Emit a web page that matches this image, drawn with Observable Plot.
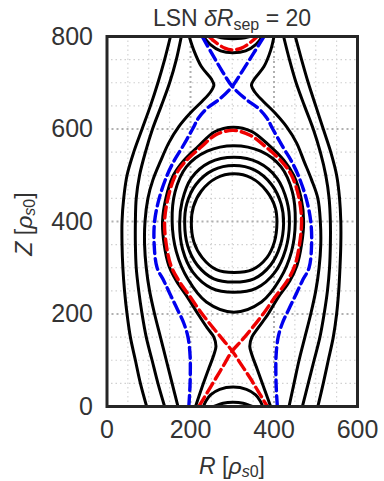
<!DOCTYPE html>
<html><head><meta charset="utf-8">
<script src="https://cdn.jsdelivr.net/npm/d3@7"></script>
<script src="https://cdn.jsdelivr.net/npm/@observablehq/plot@0.6"></script>
<style>body{margin:0;background:#fff;} svg{display:block;}</style>
</head><body><div id="chart"></div>
<script>
// tick values
const xTicks = [0, 200, 400, 600];
const yTicks = [0, 200, 400, 600, 800];
const majorR = [200, 400];
const majorZ = [200, 400, 600];
const minorR = [50, 100, 150, 250, 300, 350, 450, 500, 550];
const minorZ = [50, 100, 150, 250, 300, 350, 450, 500, 550, 650, 700, 750];

// open black field lines [R, Z]
const L1 = [[152,800],[138,750],[122,700],[104,650],[84,600],[64,550],[48,500],[40,450],[36,400],[36,350],[38,300],[42,250],[48,200],[56,150],[68,100],[80,50],[95,0]];
const L2 = [[178,800],[166,750],[150,700],[130,650],[109,600],[92,550],[78,500],[70,450],[68,400],[68,350],[70,300],[76,250],[84,200],[94,150],[108,100],[122,50],[138,0]];
const L3 = [[197,800],[208,770],[226,735],[250,708],[256,695],[248,680],[228,660],[200,635],[172,605],[148,570],[128,530],[110,490],[98,450],[91,400],[90,350],[94,300],[102,250],[114,200],[128,150],[142,100],[156,50],[170,0]];
const R1 = [[451,800],[466,750],[482,700],[500,650],[518,600],[536,550],[550,500],[557,450],[560,400],[560,350],[558,300],[555,250],[550,200],[542,150],[530,100],[518,50],[505,0]];
const R2 = [[423,800],[437,750],[453,700],[473,650],[494,600],[511,550],[524,500],[532,450],[535,400],[535,350],[533,300],[528,250],[520,200],[510,150],[496,100],[482,50],[468,0]];
const R3 = [[400,800],[392,770],[376,735],[353,708],[346,695],[354,680],[374,660],[402,635],[430,605],[454,570],[472,530],[490,490],[505,450],[511,400],[512,350],[508,300],[500,250],[488,200],[474,150],[460,100],[448,50],[436,0]];
const S1 = [[212,0],[227,40],[243,80],[256,112],[261,130],[256,150],[240,170],[218,200],[193,236],[166,272],[148,305],[137,350],[133,400],[141,450],[159,500],[182,530],[218,562],[258,594],[302,604],[346,595],[389,564],[424,532],[447,500],[465,450],[471,400],[466,350],[455,305],[438,272],[410,236],[386,200],[362,170],[347,150],[342,130],[347,112],[360,80],[376,40],[392,0]];
const T0 = [[262,800],[282,796],[302,795],[322,796],[342,800]];
const T1 = [[231,800],[247,783],[272,769],[302,765],[332,769],[357,783],[372,800]];
const B1 = [[231,0],[237,12],[248,25],[270,37],[302,42],[334,37],[356,25],[367,12],[373,0]];
const B2 = [[256,0],[278,7],[302,9],[326,7],[348,0]];

// closed black flux surfaces
const C1 = [[304,503],[346,494],[382,466],[403,430],[407,396],[401,356],[383,322],[348,296],[304,290],[262,296],[228,322],[208,356],[202,396],[207,432],[226,466],[262,494]];
const C2 = [[304,521],[354,511],[394,480],[417,438],[423,396],[415,348],[392,306],[352,276],[304,269],[256,276],[216,306],[193,348],[186,396],[191,438],[213,480],[254,511]];
const C3 = [[304,539],[362,528],[407,494],[431,444],[437,396],[428,340],[402,290],[358,256],[304,247],[250,256],[206,290],[181,340],[174,396],[180,444],[202,494],[246,528]];
const C4 = [[304,564],[368,552],[417,518],[444,464],[451,400],[442,335],[414,275],[370,226],[304,204],[238,226],[194,275],[166,335],[156,400],[163,464],[190,518],[240,552]];

// blue separatrix (upper X-point)
const blueA = [[228,800],[250,765],[274,728],[300,692],[332,665],[362,645],[382,625],[397,600],[422,560],[442,530],[458,500],[477,450],[488,400],[490,350],[484,300],[468,272],[454,245],[438,215],[420,180],[410,150],[405,110],[405,50],[408,0]];
const blueB = [[376,800],[352,765],[326,728],[300,692],[270,665],[240,645],[220,625],[205,600],[180,560],[160,530],[144,500],[125,450],[114,400],[113,350],[120,300],[136,272],[150,245],[166,215],[184,180],[194,150],[199,110],[199,50],[196,0]];

// red separatrix (lower X-point)
const redLoop = [[220,0],[240,30],[260,60],[280,90],[300,120],[322,142],[346,168],[374,200],[402,236],[432,272],[450,305],[461,350],[466,400],[460,450],[442,500],[418,530],[382,560],[344,586],[302,597],[262,588],[224,560],[188,530],[164,500],[146,450],[138,400],[142,350],[153,305],[172,272],[200,236],[228,200],[256,168],[280,142],[300,120],[322,90],[344,60],[364,30],[384,0]];
const redTop = [[244,800],[262,786],[282,775],[302,771],[322,775],[342,786],[360,800]];

const rows = (list, tag) => list.flatMap((c, i) => c.map(([R, Z]) => ({R, Z, id: tag + i})));
const openBlack = rows([L1, L2, L3, R1, R2, R3, S1, T0, T1, B1, B2], "o");
const closedBlack = rows([C1, C2, C3, C4], "c");
const blueLines = rows([blueA, blueB], "b");
const redLines = rows([redLoop, redTop], "r");

const ink = "#333333";
const font = "'Liberation Sans', Arial, sans-serif";
const svg = Plot.plot({
  width: 384, height: 481,
  marginLeft: 106.5, marginRight: 27, marginTop: 36, marginBottom: 75,
  style: {fontFamily: font, fontSize: "25px", color: ink, background: "#fff"},
  x: {domain: [0, 600], ticks: xTicks, tickSize: 0, tickPadding: 14, label: null},
  y: {domain: [0, 800], ticks: yTicks, tickSize: 0, tickPadding: 14, label: null},
  marks: [
    Plot.ruleX(minorR, {stroke: "#d0d0d0", strokeWidth: 1.1, strokeDasharray: "1.5,3"}),
    Plot.ruleY(minorZ, {stroke: "#d0d0d0", strokeWidth: 1.1, strokeDasharray: "1.5,3"}),
    Plot.ruleX(majorR, {stroke: "#b0b0b0", strokeWidth: 2, strokeDasharray: "2,3"}),
    Plot.ruleY(majorZ, {stroke: "#b0b0b0", strokeWidth: 2, strokeDasharray: "2,3"}),
    Plot.line(openBlack, {x: "R", y: "Z", z: "id", stroke: "black", strokeWidth: 3, curve: "catmull-rom", clip: true}),
    Plot.line(closedBlack, {x: "R", y: "Z", z: "id", stroke: "black", strokeWidth: 3, curve: "catmull-rom-closed", clip: true}),
    Plot.line(blueLines, {x: "R", y: "Z", z: "id", stroke: "#0000ee", strokeWidth: 3.4, strokeDasharray: "11,5", curve: "catmull-rom", clip: true}),
    Plot.line(redLines, {x: "R", y: "Z", z: "id", stroke: "#ee0000", strokeWidth: 3.4, strokeDasharray: "11,5", curve: "catmull-rom", clip: true}),
    Plot.frame({stroke: "#262626", strokeWidth: 3})
  ]
});

const s = d3.select(svg);
// title
const t = s.append("text").attr("x", 232).attr("y", 26).attr("text-anchor", "middle")
  .attr("font-size", 23).attr("fill", ink).attr("font-family", font);
t.append("tspan").text("LSN ");
t.append("tspan").attr("font-style", "italic").text("δR");
t.append("tspan").attr("font-size", 16).attr("dy", 4).text("sep");
t.append("tspan").attr("dy", -4).text(" = 20");
// x label
const xl = s.append("text").attr("x", 232).attr("y", 474).attr("text-anchor", "middle")
  .attr("font-size", 23).attr("fill", ink).attr("font-family", font);
xl.append("tspan").attr("font-style", "italic").text("R");
xl.append("tspan").text(" [");
xl.append("tspan").attr("font-style", "italic").text("ρ");
xl.append("tspan").attr("font-size", 16).attr("dy", 3).attr("font-style", "italic").text("s");
xl.append("tspan").attr("font-size", 16).text("0");
xl.append("tspan").attr("dy", -3).text("]");
// y label
const yl = s.append("text").attr("transform", "translate(32,224) rotate(-90)").attr("text-anchor", "middle")
  .attr("font-size", 23).attr("fill", ink).attr("font-family", font);
yl.append("tspan").attr("font-style", "italic").text("Z");
yl.append("tspan").text(" [");
yl.append("tspan").attr("font-style", "italic").text("ρ");
yl.append("tspan").attr("font-size", 16).attr("dy", 3).attr("font-style", "italic").text("s");
yl.append("tspan").attr("font-size", 16).text("0");
yl.append("tspan").attr("dy", -3).text("]");

document.getElementById("chart").appendChild(svg);
</script>
</body></html>
